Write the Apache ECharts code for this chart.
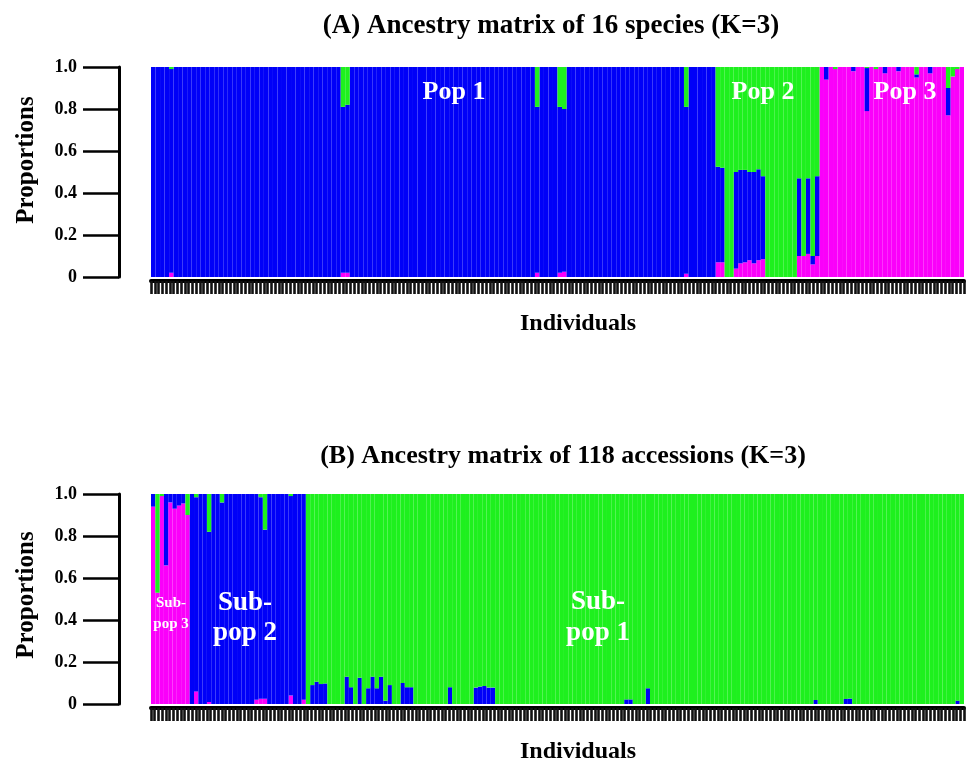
<!DOCTYPE html>
<html><head><meta charset="utf-8">
<script src="https://cdn.jsdelivr.net/npm/echarts@6/dist/echarts.min.js"></script>
<style>html,body{margin:0;padding:0;background:#fff}#c{width:968px;height:765px}</style>
</head><body><div id="c"></div>
<script>
// ---------- (A) 16 species, K=3 : proportions per individual (pink bottom, blue middle, green top)
const A_PINK = [
0,0,0,0,.02,0,0,0,0,0,
0,0,0,0,0,0,0,0,0,0,
0,0,0,0,0,0,0,0,0,0,
0,0,0,0,0,0,0,0,0,0,
0,0,.02,.02,0,0,0,0,0,0,
0,0,0,0,0,0,0,0,0,0,
0,0,0,0,0,0,0,0,0,0,
0,0,0,0,0,0,0,0,0,0,
0,0,0,0,0,.02,0,0,0,0,
.02,.025,0,0,0,0,0,0,0,0,
0,0,0,0,0,0,0,0,0,0,
0,0,0,0,0,0,0,0,.015,0,
0,0,0,0,0,.07,.07,0,0,.04,
.065,.07,.08,.065,.08,.085,0,0,0,0,
0,0,0,.10,.10,.11,.06,.10,1,.94,
1,.99,1,1,1,.98,1,1,.79,1,
.99,1,.97,1,1,.98,1,1,1,.95,
1,1,.97,1,1,1,.77,.955,.99,1
];
const A_BLUE = [
1,1,1,1,.97,1,1,1,1,1,
1,1,1,1,1,1,1,1,1,1,
1,1,1,1,1,1,1,1,1,1,
1,1,1,1,1,1,1,1,1,1,
1,1,.79,.80,1,1,1,1,1,1,
1,1,1,1,1,1,1,1,1,1,
1,1,1,1,1,1,1,1,1,1,
1,1,1,1,1,1,1,1,1,1,
1,1,1,1,1,.79,1,1,1,1,
.79,.775,1,1,1,1,1,1,1,1,
1,1,1,1,1,1,1,1,1,1,
1,1,1,1,1,1,1,1,.795,1,
1,1,1,1,1,.455,.45,0,0,.46,
.445,.44,.42,.435,.433,.395,0,0,0,0,
0,0,0,.37,0,.36,.04,.38,0,.06,
0,0,0,0,0,.02,0,0,.205,0,
0,0,.03,0,0,.02,0,0,0,.015,
0,0,.03,0,0,0,.13,0,0,0
];
const A_GREEN = [
0,0,0,0,.01,0,0,0,0,0,
0,0,0,0,0,0,0,0,0,0,
0,0,0,0,0,0,0,0,0,0,
0,0,0,0,0,0,0,0,0,0,
0,0,.19,.18,0,0,0,0,0,0,
0,0,0,0,0,0,0,0,0,0,
0,0,0,0,0,0,0,0,0,0,
0,0,0,0,0,0,0,0,0,0,
0,0,0,0,0,.19,0,0,0,0,
.19,.20,0,0,0,0,0,0,0,0,
0,0,0,0,0,0,0,0,0,0,
0,0,0,0,0,0,0,0,.19,0,
0,0,0,0,0,.475,.48,1,1,.50,
.49,.49,.50,.50,.487,.52,1,1,1,1,
1,1,1,.53,.90,.53,.90,.52,0,0,
0,.01,0,0,0,0,0,0,.005,0,
.01,0,0,0,0,0,0,0,0,.035,
0,0,0,0,0,0,.10,.045,.01,0
];

// ---------- (B) 118 accessions, K=3
const B_PINK = [
.94,.53,.99,.66,.96,.93,.945,.955,.90,0,
.06,0,0,.01,0,0,0,0,0,0,
0,0,0,0,.02,.025,.025,0,0,0,
0,0,.04,0,0,.02,0,0,0,0,
0,0,0,0,0,0,0,0,0,0,
0,0,0,0,0,0,0,0,0,0,
0,0,0,0,0,0,0,0,0,0,
0,0,0,0,0,0,0,0,0,0,
0,0,0,0,0,0,0,0,0,0,
0,0,0,0,0,0,0,0,0,0,
0,0,0,0,0,0,0,0,0,0,
0,0,0,0,0,0,0,0,0,0,
0,0,0,0,0,0,0,0,0,0,
0,0,0,0,0,0,0,0,0,0,
0,0,0,0,0,0,0,0,0,0,
0,0,0,0,0,0,0,0,0,0,
0,0,0,0,0,0,0,0,0,0,
0,0,0,0,0,0,0,0,0,0,
0,0,0,0,0,0,0,0,0
];
const B_BLUE = [
.06,0,0,.34,.04,.07,.055,.045,0,1,
.925,1,1,.81,1,1,.96,1,1,1,
1,1,1,1,.98,.96,.805,1,1,1,
1,1,.95,1,1,.98,0,.09,.106,.095,
.098,0,0,0,0,.13,.08,0,.125,0,
.075,.13,.075,.13,.015,.09,0,0,.10,.08,
.08,0,0,0,0,0,0,0,0,.08,
0,0,0,0,0,.078,.083,.086,.078,.078,
0,0,0,0,0,0,0,0,0,0,
0,0,0,0,0,0,0,0,0,0,
0,0,0,0,0,0,0,0,0,0,
.022,.022,0,0,0,.075,0,0,0,0,
0,0,0,0,0,0,0,0,0,0,
0,0,0,0,0,0,0,0,0,0,
0,0,0,0,0,0,0,0,0,0,
0,0,0,0,.019,0,0,0,0,0,
0,.024,.026,0,0,0,0,0,0,0,
0,0,0,0,0,0,0,0,0,0,
0,0,0,0,0,0,0,.016,0
];
const B_GREEN = [
0,.47,.01,0,0,0,0,0,.10,0,
.015,0,0,.18,0,0,.04,0,0,0,
0,0,0,0,0,.015,.17,0,0,0,
0,0,.01,0,0,0,1,.91,.894,.905,
.902,1,1,1,1,.87,.92,1,.875,1,
.925,.87,.925,.87,.985,.91,1,1,.90,.92,
.92,1,1,1,1,1,1,1,1,.92,
1,1,1,1,1,.922,.917,.914,.922,.922,
1,1,1,1,1,1,1,1,1,1,
1,1,1,1,1,1,1,1,1,1,
1,1,1,1,1,1,1,1,1,1,
.978,.978,1,1,1,.925,1,1,1,1,
1,1,1,1,1,1,1,1,1,1,
1,1,1,1,1,1,1,1,1,1,
1,1,1,1,1,1,1,1,1,1,
1,1,1,1,.981,1,1,1,1,1,
1,.976,.974,1,1,1,1,1,1,1,
1,1,1,1,1,1,1,1,1,1,
1,1,1,1,1,1,1,.984,1
];

const Y_TICK_LABELS = ['0','0.2','0.4','0.6','0.8','1.0'];
const A_CATS = A_BLUE.map((_, i) => 'A' + (i + 1));
const B_CATS = B_BLUE.map((_, i) => 'B' + (i + 1));
const A_STRIP_TICKS = 216;
const B_STRIP_TICKS = 218;

const C_PINK = '#FA00FA', C_BLUE = '#0000F8', C_GREEN = '#1EF01E';
const FONT = "'Liberation Serif','Times New Roman',serif";

function yAx(gi) {
  return {
    type: 'value', gridIndex: gi, min: 0, max: 1, interval: 0.2, offset: 32, position: 'left',
    axisLine: {show: true, onZero: false, lineStyle: {color: '#000', width: 3}},
    axisTick: {show: true, length: 36, lineStyle: {color: '#000', width: 2.5}},
    axisLabel: {margin: 42, fontFamily: FONT, fontWeight: 'bold', fontSize: 18, color: '#000',
      formatter: v => Y_TICK_LABELS[Math.round(v * 5)]},
    splitLine: {show: false}
  };
}
function catAx(gi, cats) {
  return {type: 'category', gridIndex: gi, data: cats, show: false, position: 'top', boundaryGap: true,
    axisLine: {onZero: false}};
}
function stripAx(gi, n) {
  return {
    type: 'value', gridIndex: gi, min: 0, max: n, interval: 1, position: 'bottom', offset: 4,
    axisLine: {show: true, onZero: false, lineStyle: {color: '#000', width: 4}},
    axisTick: {show: true, length: 13, lineStyle: {color: '#111', width: 2.6}},
    axisLabel: {show: false}, splitLine: {show: false}
  };
}
function bar(xi, yi, stack, data, color) {
  return {type: 'bar', xAxisIndex: xi, yAxisIndex: yi, stack: stack, data: data,
    barCategoryGap: '0%', barGap: '0%', silent: true, itemStyle: {color: color}};
}
function txt(x, y, text, size, color, extra) {
  return Object.assign({
    type: 'text', x: x, y: y, z: 100, zlevel: 0, silent: true,
    style: {text: text, fill: color, font: 'bold ' + size + 'px ' + FONT,
      fontFamily: FONT, fontWeight: 'bold', fontSize: size,
      textAlign: 'center', textVerticalAlign: 'middle', align: 'center', verticalAlign: 'middle',
      lineHeight: extra && extra.lh ? extra.lh : undefined}
  }, extra && extra.el ? extra.el : {});
}

const chart = echarts.init(document.getElementById('c'), null, {renderer: 'canvas'});
chart.setOption({
  animation: false,
  backgroundColor: '#fff',
  grid: [
    {left: 151, right: 4, top: 67, height: 210, containLabel: false, outerBoundsMode: 'none'},
    {left: 151, right: 4, top: 494, height: 210, containLabel: false, outerBoundsMode: 'none'}
  ],
  xAxis: [catAx(0, A_CATS), stripAx(0, A_STRIP_TICKS), catAx(1, B_CATS), stripAx(1, B_STRIP_TICKS)],
  yAxis: [yAx(0), yAx(1)],
  series: [
    bar(0, 0, 'A', A_PINK, C_PINK), bar(0, 0, 'A', A_BLUE, C_BLUE), bar(0, 0, 'A', A_GREEN, C_GREEN),
    bar(2, 1, 'B', B_PINK, C_PINK), bar(2, 1, 'B', B_BLUE, C_BLUE), bar(2, 1, 'B', B_GREEN, C_GREEN)
  ],
  graphic: {
    elements: [
      txt(551, 26, '(A) Ancestry matrix of 16 species (K=3)', 27, '#000'),
      txt(563, 456, '(B) Ancestry matrix of 118 accessions (K=3)', 26, '#000'),
      txt(578, 324, 'Individuals', 24, '#000'),
      txt(578, 752, 'Individuals', 24, '#000'),
      txt(27, 160, 'Proportions', 25, '#000', {el: {rotation: Math.PI / 2}}),
      txt(27, 595, 'Proportions', 25, '#000', {el: {rotation: Math.PI / 2}}),
      txt(454, 92, 'Pop 1', 26, '#fff'),
      txt(763, 92, 'Pop 2', 26, '#fff'),
      txt(905, 92, 'Pop 3', 26, '#fff'),
      txt(171, 614, 'Sub-\npop 3', 15, '#fff', {lh: 21}),
      txt(245, 618, 'Sub-\npop 2', 27, '#fff', {lh: 30}),
      txt(598, 618, 'Sub-\npop 1', 27, '#fff', {lh: 31})
    ]
  }
});
</script></body></html>
